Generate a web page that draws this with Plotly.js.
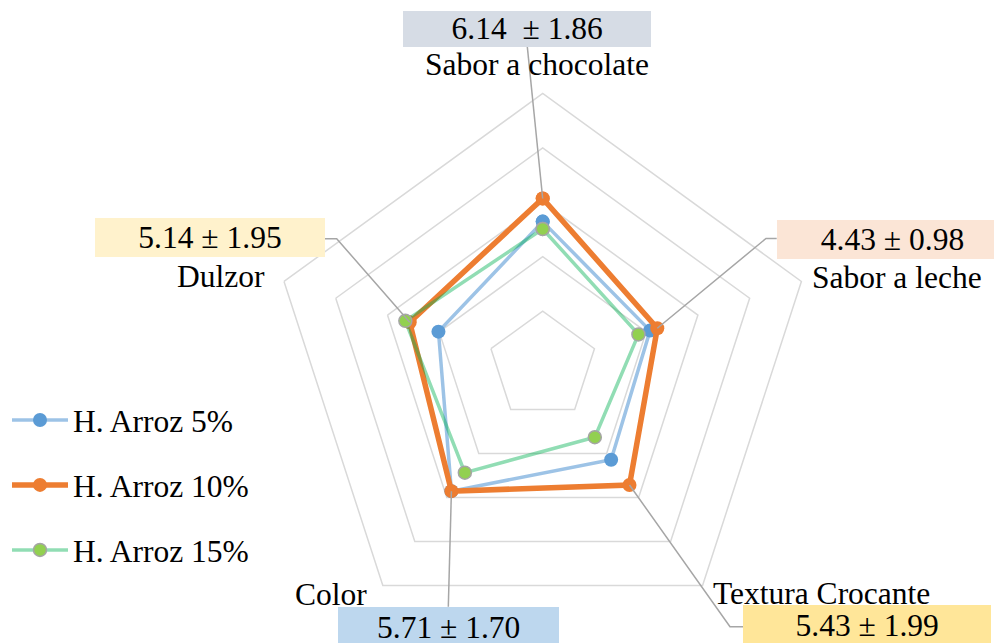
<!DOCTYPE html>
<html><head><meta charset="utf-8">
<script src="https://cdn.plot.ly/plotly-3.0.1.min.js"></script>
<style>html,body{margin:0;padding:0;background:#fff}#chart{width:994px;height:643px}</style>
</head><body><div id="chart"></div>
<script>
// ---- data ----
const categories = ['Sabor a chocolate', 'Sabor a leche', 'Textura Crocante', 'Color', 'Dulzor'];
const seriesNames = ['H. Arroz 5%', 'H. Arroz 10%', 'H. Arroz 15%'];
const arroz5  = [5.29, 4.15, 4.28, 5.71, 4.03];
const arroz10 = [6.14, 4.43, 5.43, 5.71, 5.14];
const arroz15 = [5.02, 3.70, 3.26, 4.87, 5.31];
const sd10    = [1.86, 0.98, 1.99, 1.70, 1.95];
const gridVals = [2, 4, 6, 8, 10];

// ---- layout geometry ----
const W = 994, H = 643;
const CX = 542.7, CY = 365.5, R = 272, RMAX = 10;
const FONT = 'Liberation Serif, Times New Roman, serif';
const FS = 31.5;
const px = x => x / W, py = y => 1 - y / H;

function closeLoop(a) { return a.concat([a[0]]); }
function pt(i, v) {
  const a = i * 2 * Math.PI / categories.length;
  return [CX + v * R / RMAX * Math.sin(a), CY - v * R / RMAX * Math.cos(a)];
}

const traces = [
  {name: seriesNames[0], r: closeLoop(arroz5), theta: closeLoop(categories), type: 'scatterpolar', mode: 'lines+markers',
   line: {color: 'rgba(91,155,213,0.6)', width: 3.5}, marker: {color: '#5B9BD5', size: 14}, legendgroup: 'a'},
  {name: seriesNames[1], r: closeLoop(arroz10), theta: closeLoop(categories), type: 'scatterpolar', mode: 'lines+markers',
   line: {color: '#ED7D31', width: 5.5}, marker: {color: '#ED7D31', size: 14}, legendgroup: 'b'},
  {name: seriesNames[2], r: closeLoop(arroz15), theta: closeLoop(categories), type: 'scatterpolar', mode: 'lines+markers',
   line: {color: 'rgba(0,176,80,0.43)', width: 3.5}, marker: {color: '#92D050', size: 13, line: {color: '#A5A5A5', width: 1.5}}, legendgroup: 'c'}
];

// label placements (pixels): category label centre, value box, leader bend
const catLabelPos = [[536.5, 64.5], [897, 277.8], [821, 593.5], [330.5, 594.5], [220.5, 276.8]];
const boxPos = [ // left, top, width, height
  [403.3, 11, 248.4, 35.7], [776.7, 219.5, 231, 38.5], [743.3, 605, 248.4, 41], [338.3, 606.7, 221.4, 41], [95, 218.5, 230, 39]];
const boxColors = ['#D6DCE5', '#FBE5D6', '#FFE699', '#BDD7EE', '#FFF2CC'];
const leaderEnds = [
  [[527.3, 46.7]],
  [[766, 238.5], [776.7, 238.5]],
  [[730, 626.7], [743.3, 626.7]],
  [[448.3, 606.7]],
  [[336.7, 238.7], [325, 238.7]]
];

const annotations = [], shapes = [];
categories.forEach((c, i) => {
  annotations.push({text: c, x: px(catLabelPos[i][0]), y: py(catLabelPos[i][1]), xref: 'paper', yref: 'paper',
    xanchor: 'center', yanchor: 'middle', showarrow: false, font: {family: FONT, size: FS, color: '#000'}});
  const b = boxPos[i];
  const txt = arroz10[i].toFixed(2) + (i === 0 ? '\u00a0\u00a0' : '\u00a0') + '±\u00a0' + sd10[i].toFixed(2);
  annotations.push({text: txt, x: px(b[0]), y: py(b[1]), xref: 'paper', yref: 'paper', xanchor: 'left', yanchor: 'top',
    width: b[2], height: b[3], align: 'center', valign: 'middle', bgcolor: boxColors[i], borderpad: 0, borderwidth: 0,
    showarrow: false, font: {family: FONT, size: FS, color: '#000'}});
  const p = pt(i, arroz10[i]);
  let path = 'M' + px(p[0]) + ',' + py(p[1]);
  leaderEnds[i].forEach(e => { path += ' L' + px(e[0]) + ',' + py(e[1]); });
  shapes.push({type: 'path', xref: 'paper', yref: 'paper', path: path, layer: 'above', line: {color: '#A6A6A6', width: 1.5}});
});

const layout = {
  width: W, height: H, margin: {l: 0, r: 0, t: 0, b: 0}, paper_bgcolor: '#fff',
  font: {family: FONT, size: FS, color: '#000'},
  showlegend: true,
  legend: {x: px(7), y: py(393), xanchor: 'left', yanchor: 'top', bgcolor: 'rgba(0,0,0,0)',
    traceorder: 'grouped', tracegroupgap: 21, itemwidth: 56, font: {family: FONT, size: FS, color: '#000'}},
  polar: {
    domain: {x: [px(CX - R), px(CX + R)], y: [py(CY + R), py(CY - R)]},
    gridshape: 'linear', bgcolor: 'rgba(0,0,0,0)',
    radialaxis: {range: [0, RMAX], tickvals: gridVals, showticklabels: false, ticks: '', showline: false,
      gridcolor: '#D9D9D9', gridwidth: 1.5},
    angularaxis: {type: 'category', direction: 'clockwise', rotation: 90, showticklabels: false, ticks: '',
      showgrid: false, showline: true, linecolor: '#D9D9D9', linewidth: 1.5}
  },
  annotations: annotations, shapes: shapes
};

Plotly.newPlot('chart', traces, layout, {displayModeBar: false, staticPlot: true});
</script></body></html>
